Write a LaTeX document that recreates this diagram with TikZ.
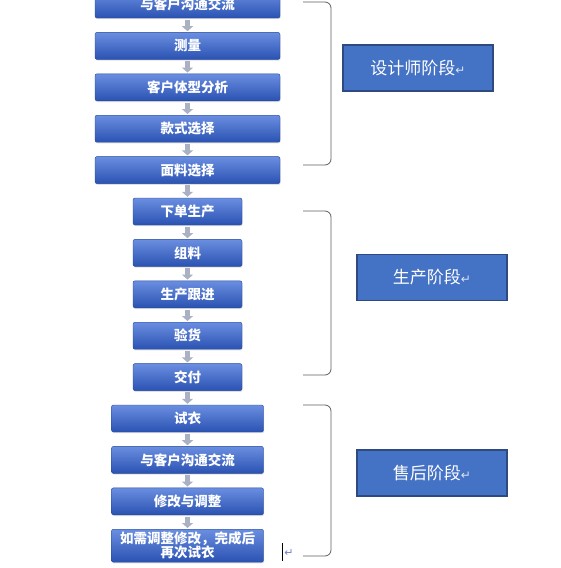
\documentclass[tikz,border=0pt]{standalone}
\usepackage{fontspec}
\setmainfont{Noto Sans CJK SC}
\newfontfamily\symfont{DejaVu Sans}
\usepackage{tikz}
\usetikzlibrary{positioning, arrows.meta, shadows}
\definecolor{StepTop}{HTML}{6A8EE0}
\definecolor{StepBot}{HTML}{2A52B2}
\definecolor{PhaseFill}{HTML}{4472C4}
\definecolor{PhaseLine}{HTML}{2F4A80}
\definecolor{FlowGray}{HTML}{A9B1C2}
\definecolor{BraceGray}{HTML}{5E5E5E}
\newcommand\retmark{{\symfont\fontsize{12}{12}\selectfont\color{white!80!PhaseFill}↵}}

\begin{document}
\begin{tikzpicture}[x=1pt, y=-1pt, node distance=14pt,
  stepbox/.style={rounded corners=2pt, top color=StepTop, bottom color=StepBot,
    draw=StepBot!85!black, line width=0.4pt, text=white, align=center,
    font=\fontsize{13.5}{14}\selectfont\bfseries, minimum height=27pt, inner sep=1pt,
    drop shadow={shadow xshift=0.6pt, shadow yshift=-1.2pt, opacity=0.25}},
  phasebox/.style={draw=PhaseLine, fill=PhaseFill, line width=1.2pt, text=white,
    minimum width=150pt, minimum height=46pt, inner sep=0pt, font=\fontsize{17}{20}\selectfont},
  flowarrow/.style={-{Triangle[width=11pt,length=5pt]}, line width=5pt, FlowGray,
    shorten <=1.5pt, shorten >=1pt},
  bracket/.style={BraceGray, line width=0.8pt, rounded corners=6pt}]
  \useasboundingbox (0,0) rectangle (560,568);
  \clip (0,0) rectangle (560,568);

  % designer steps
  \node[stepbox, minimum width=185pt] (d1) at (187.5,4.5) {与客户沟通交流};
  \node[stepbox, minimum width=185pt, below=of d1] (d2) {测量};
  \node[stepbox, minimum width=185pt, below=of d2] (d3) {客户体型分析};
  \node[stepbox, minimum width=185pt, below=of d3] (d4) {款式选择};
  \node[stepbox, minimum width=185pt, below=of d4] (d5) {面料选择};
  % production steps
  \node[stepbox, minimum width=109pt, below=of d5] (p1) {下单生产};
  \node[stepbox, minimum width=109pt, below=of p1] (p2) {组料};
  \node[stepbox, minimum width=109pt, below=of p2] (p3) {生产跟进};
  \node[stepbox, minimum width=109pt, below=of p3] (p4) {验货};
  \node[stepbox, minimum width=109pt, below=of p4] (p5) {交付};
  % after-sales steps
  \node[stepbox, minimum width=152pt, below=of p5] (s1) {试衣};
  \node[stepbox, minimum width=152pt, below=of s1] (s2) {与客户沟通交流};
  \node[stepbox, minimum width=152pt, below=of s2] (s3) {修改与调整};
  \node[stepbox, minimum width=152pt, minimum height=33pt, below=of s3] (s4)
    {如需调整修改，完成后\\再次试衣};

  \foreach \a/\b in {d1/d2, d2/d3, d3/d4, d4/d5, d5/p1, p1/p2, p2/p3, p3/p4, p4/p5,
      p5/s1, s1/s2, s2/s3, s3/s4}
    \draw[flowarrow] (\a) -- (\b);

  % phase brackets
  \draw[bracket] (303,2) -- (331,2) -- (331,165) -- (303,165);
  \draw[bracket] (303,211) -- (331,211) -- (331,375) -- (303,375);
  \draw[bracket] (303,405) -- (331,405) -- (331,556) -- (303,556);

  \node[phasebox] (ph1) at (418,68) {设计师阶段\retmark};
  \node[phasebox] (ph2) at (432,277.5) {生产阶段\retmark};
  \node[phasebox] (ph3) at (432,473) {售后阶段\retmark};

  % cursor mark
  \node[inner sep=0pt, font=\symfont\fontsize{11}{11}\selectfont, text=FlowGray!70!blue] (cur) at (289,553) {↵};
  \draw[black, line width=0.7pt] (cur.west) ++(-2,-10) -- ++(0,18);
\end{tikzpicture}
\end{document}
